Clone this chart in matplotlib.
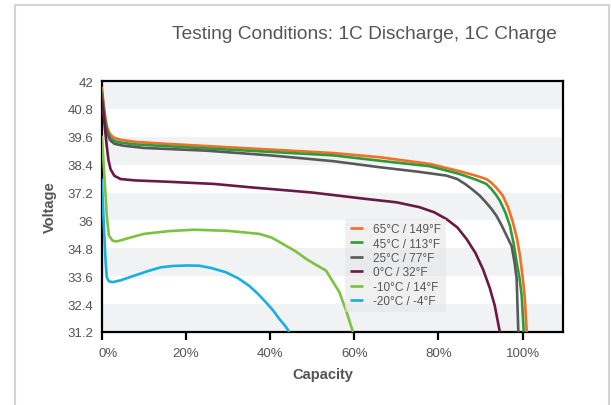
import matplotlib
matplotlib.use('Agg')
import matplotlib.pyplot as plt
import matplotlib.transforms as mtransforms
from matplotlib.lines import Line2D

plt.rcParams['font.family'] = ['Liberation Sans', 'DejaVu Sans']

labels = ['65°C / 149°F', '45°C / 113°F', '25°C / 77°F',
          '0°C / 32°F', '-10°C / 14°F', '-20°C / -4°F']
colors = ['#f36f21', '#2f9a3c', '#58595b', '#6b1942', '#7dc142', '#19afe0']

# capacity (%) and voltage
cap_65 = [0, 0.4, 0.8, 1.3, 2, 3, 4.5, 8, 15, 25, 40, 55, 66, 78, 85, 89, 91.4, 92.6, 93.8, 95.3,
          96.6, 97.7, 98.7, 99.4, 100, 100.5, 101]
v_65 = [41.75, 41.1, 40.5, 40.0, 39.7, 39.55, 39.47, 39.38, 39.3, 39.2, 39.05, 38.9, 38.72, 38.43,
        38.12, 37.92, 37.78, 37.62, 37.4, 37.07, 36.55, 35.93, 35.2, 34.48, 33.6, 32.76, 31.2]

cap_45 = [0, 0.4, 0.8, 1.3, 2, 3, 4.5, 8, 15, 25, 40, 55, 66, 78, 85, 89, 91.4, 92.6, 93.7, 94.6,
          95.9, 97, 97.9, 98.6, 99.3, 99.8, 100.3]
v_45 = [41.6, 40.9, 40.3, 39.85, 39.55, 39.42, 39.35, 39.27, 39.2, 39.1, 38.95, 38.8, 38.57, 38.33,
        38.0, 37.75, 37.57, 37.35, 37.1, 36.85, 36.35, 35.77, 35.0, 34.2, 33.5, 32.76, 31.2]

cap_25 = [0, 0.4, 0.8, 1.3, 2, 3, 5, 10, 25, 40, 55, 66, 75, 81.9, 84.5, 86.5, 88.3, 89.8, 91.2,
          92.6, 93.8, 95, 96.2, 97.4, 98.1, 98.6, 99]
v_25 = [41.5, 40.8, 40.2, 39.75, 39.45, 39.3, 39.22, 39.12, 39.0, 38.8, 38.55, 38.29, 38.1, 37.93,
        37.78, 37.55, 37.3, 37.07, 36.8, 36.5, 36.2, 35.8, 35.35, 34.9, 34.2, 33.5, 31.2]

cap_0 = [0, 0.4, 0.8, 1.2, 1.6, 2.1, 3, 4.5, 8, 15, 26.7, 35, 50, 63, 70, 75.5, 79, 81.9, 84.5,
         86.7, 88.8, 90.6, 92.2, 93.4, 94.6]
v_0 = [41.2, 40.6, 39.9, 39.2, 38.6, 38.2, 37.92, 37.78, 37.72, 37.67, 37.57, 37.43, 37.2, 36.92,
       36.78, 36.57, 36.35, 36.06, 35.7, 35.2, 34.6, 33.9, 33.1, 32.33, 31.2]

cap_m10 = [0, 0.4, 0.8, 1.2, 1.7, 2.6, 3.7, 6, 10, 16, 22, 30, 37.5, 40.5, 43, 46, 48.6, 51, 53.3,
           54.8, 56.5, 58.2, 59.7]
v_m10 = [39.65, 38.6, 37.4, 36.2, 35.35, 35.12, 35.1, 35.22, 35.42, 35.54, 35.6, 35.55, 35.42,
         35.25, 34.99, 34.68, 34.34, 34.08, 33.84, 33.4, 32.9, 32.05, 31.2]

cap_m20 = [0, 0.3, 0.6, 0.9, 1.2, 1.7, 2.5, 4.5, 7.7, 11, 14, 17, 20.4, 23.2, 26, 29.5, 32.5, 35,
           37, 39, 40.7, 42.2, 43.5, 44.6]
v_m20 = [37.8, 36.6, 35.4, 34.3, 33.55, 33.38, 33.34, 33.42, 33.62, 33.82, 33.98, 34.04, 34.06,
         34.05, 33.95, 33.77, 33.5, 33.19, 32.86, 32.48, 32.13, 31.76, 31.48, 31.2]

caps = [cap_65, cap_45, cap_25, cap_0, cap_m10, cap_m20]
volts = [v_65, v_45, v_25, v_0, v_m10, v_m20]

yticks = [31.2, 32.4, 33.6, 34.8, 36, 37.2, 38.4, 39.6, 40.8, 42]
xticks = [0, 20, 40, 60, 80, 100]
xticklabels = ['0%', '20%', '40%', '60%', '80%', '100%']

fig = plt.figure(figsize=(6.11, 4.06), dpi=100)
ax = fig.add_axes([0.1665, 0.180, 0.7555, 0.618])

# alternating bands
for i in range(0, len(yticks) - 1, 2):
    ax.axhspan(yticks[i], yticks[i + 1], color='#f1f2f4', lw=0, zorder=0)

for c, v, lab, col in zip(caps, volts, labels, colors):
    ax.plot(c, v, color=col, lw=1.9, label=lab, solid_capstyle='butt',
            solid_joinstyle='round', zorder=3)

ax.set_xlim(0, 109.7)
ax.set_ylim(31.2, 42)
ax.set_yticks(yticks)
ax.set_yticklabels(['31.2', '32.4', '33.6', '34.8', '36', '37.2', '38.4', '39.6', '40.8', '42'])
ax.set_xticks(xticks)
ax.set_xticklabels(xticklabels)
ax.tick_params(axis='y', length=0, pad=6, labelsize=9.5, labelcolor='#555555')
ax.tick_params(axis='x', length=6, width=1.6, color='black', pad=5, labelsize=9.5, labelcolor='#555555')
# the 0% label sits a little right of its tick in the original
shift = mtransforms.ScaledTranslation(6 / 100, 0, fig.dpi_scale_trans)
lab0 = ax.xaxis.get_major_ticks()[0].label1
lab0.set_transform(lab0.get_transform() + shift)
for s in ax.spines.values():
    s.set_linewidth(1.6)
    s.set_color('black')

ax.set_ylabel('Voltage', fontsize=10.5, fontweight='bold', color='#555555', labelpad=8)
ax.set_xlabel('Capacity', fontsize=10.5, fontweight='bold', color='#555555', labelpad=12)
ax.xaxis.set_label_coords(0.479, -0.14)

leg = ax.legend(loc='upper left', bbox_to_anchor=(0.527, 0.452), fontsize=8.5, frameon=True,
                handlelength=1.1, handletextpad=0.9, labelspacing=0.2, borderpad=0.4,
                borderaxespad=0)
leg.get_frame().set_facecolor('#e4e5e5')
leg.get_frame().set_alpha(0.55)
leg.get_frame().set_edgecolor('none')
leg.get_frame().set_boxstyle('square', pad=0)
for t in leg.get_texts():
    t.set_color('#555555')

fig.text(0.912, 0.915, 'Testing Conditions: 1C Discharge, 1C Charge', ha='right', va='center',
         fontsize=13.8, color='#555555')

# page border
fig.add_artist(Line2D([0.024, 0.024], [0, 0.985], color='#d4d4d4', lw=1.5))
fig.add_artist(Line2D([0.024, 0.997], [0.985, 0.985], color='#d4d4d4', lw=1.5))
fig.add_artist(Line2D([0.997, 0.997], [0, 0.985], color='#d4d4d4', lw=1.5))

fig.savefig('out.png', dpi=100)
